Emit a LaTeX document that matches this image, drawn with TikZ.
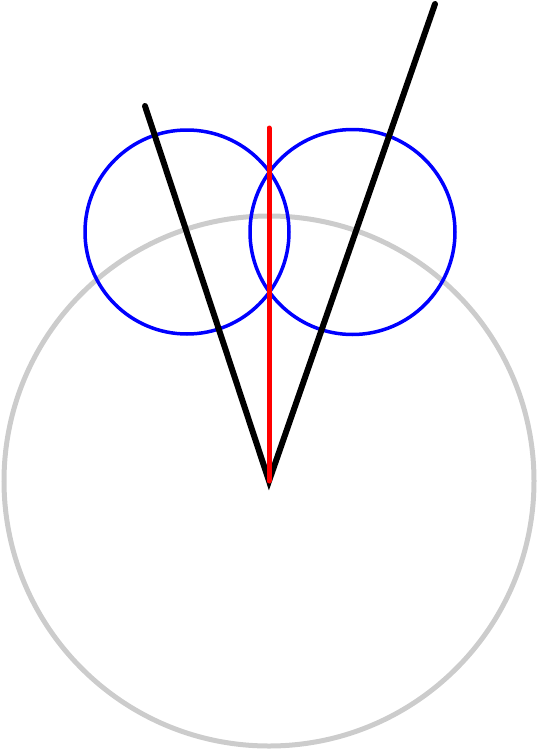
\documentclass[tikz,border=0pt]{standalone}
\begin{document}
\begin{tikzpicture}[line join=miter, line cap=round, x=1pt, y=-1pt]
	\useasboundingbox (0,0) rectangle (538,750);
	\coordinate (O) at (269,481);
	\coordinate (L) at (145,106);
	\coordinate (R) at (435,4);
	\draw[gray!40, line width=5pt] (O) circle (265);
	\draw[blue, line width=3.5pt] (187,232) circle (102) (352.5,232) circle (102.5);
	\draw[line width=6pt] (L)--(O)--(R);
	\draw[red, line width=5pt] (269,128)--(O);
\end{tikzpicture}
\end{document}
